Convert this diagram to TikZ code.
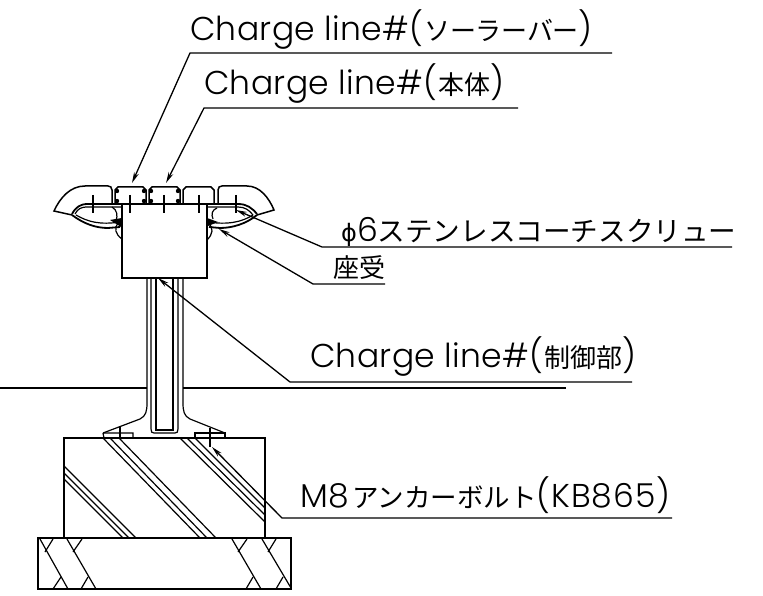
\documentclass[tikz,border=0pt]{standalone}
\usepackage{fontspec}
\setmainfont{Noto Sans CJK JP}
\newfontfamily\lat{Poppins Light}
\newfontfamily\sym{DejaVu Sans}
\usetikzlibrary{arrows.meta}
\newcommand{\jtext}[3]{{\fontsize{#1}{#1}\selectfont\addfontfeatures{LetterSpace=#2}#3}}
\newcommand{\ltext}[2][0]{{\lat\fontsize{33}{33}\selectfont\addfontfeatures{LetterSpace=#1}#2}}
\tikzset{
 x=1pt,y=-1pt,
 thin line/.style={line width=1.2pt,black},
 thick line/.style={line width=1.5pt,black},
 leader/.style={line width=1.3pt,black,-{Stealth[length=11pt,width=5pt]}},
 label/.style={anchor=base west,inner sep=0pt},
}
\begin{document}
\begin{tikzpicture}
\useasboundingbox (0,0) rectangle (763,596);
% labels
\node[label] (a) at (190,41) {\ltext[1]{Charge line\#(}\hspace{1pt}\jtext{26}{-1}{ソーラーバー}\ltext{)}};
\node[label] (b) at (204,95) {\ltext[1]{Charge line\#(}\hspace{1pt}\jtext{26}{0}{本体}\ltext{)}};
\node[label] (c) at (341,241) {{\sym\fontsize{24}{24}\selectfont ϕ}\ltext{6}\jtext{27.6}{0}{ステンレスコーチスクリュー}};
\node[label] (d) at (333,277) {\jtext{26}{0}{座受}};
\node[label] (e) at (310,367) {\ltext[1]{Charge line\#(}\hspace{1pt}\jtext{26}{0}{制御部}\ltext{)}};
\node[label] (f) at (300,507) {\ltext[2]{M8}\hspace{3pt}\jtext{26.5}{0}{アンカーボルト}\ltext[3]{(KB865)}};
% feet and leaders
\coordinate (a0) at (190,53); \coordinate (a1) at (612,53); \coordinate (at) at (132,183);
\coordinate (b0) at (204,108); \coordinate (b1) at (518,108); \coordinate (bt) at (166,183);
\coordinate (c0) at (322,247); \coordinate (c1) at (732,247); \coordinate (ct) at (236,210);
\coordinate (d0) at (313,284); \coordinate (d1) at (385,284); \coordinate (dt) at (219,229);
\coordinate (e0) at (290,382); \coordinate (e1) at (632,382); \coordinate (et) at (158,278);
\coordinate (f0) at (282,518); \coordinate (f1) at (672,518); \coordinate (ft) at (212,447);
\draw[leader] (a1) -- (a0) -- (at);
\draw[leader] (b1) -- (b0) -- (bt);
\draw[leader] (c1) -- (c0) -- (ct);
\draw[leader] (d1) -- (d0) -- (dt);
\draw[leader] (e1) -- (e0) -- (et);
\draw[leader] (f1) -- (f0) -- (ft);
% ground line
\draw[thick line] (0,388) -- (147,388) (183,388) -- (566,388);
% seat box
\draw[line width=1.8pt] (122,204) rectangle (207,278);
% bars
\draw[thick line] (112,203) -- (112,190) .. controls (112,187) and (110,186) .. (108,186) -- (85,186) .. controls (70,186) and (60,198) .. (54,211) -- (72,215);
\draw[thick line] (218,203) -- (218,190) .. controls (218,187) and (220,186) .. (222,186) -- (247,186) .. controls (260,186) and (269,198) .. (274,210) -- (257,215);
\draw[thick line] (115,203) -- (115,190) -- (118,187) -- (143,187) -- (146,190) -- (146,203);
\draw[thick line] (149,203) -- (149,190) -- (152,187) -- (177,187) -- (180,190) -- (180,203);
\draw[thick line] (183,203) -- (183,190) -- (186,187) -- (211,187) -- (214,190) -- (214,203);
% rivets
\foreach \p in {(117,191),(144,191),(117,201),(144,201),(151,191),(178,191),(151,201),(178,201)}
 \fill \p circle (2.2);
% bracket tops
\draw[line width=1.8pt] (72,214) .. controls (76,207) and (80,204) .. (88,204) -- (238,204) .. controls (247,204) and (252,208) .. (257,214);
\draw[thin line] (75,214) .. controls (78,209) and (80,207) .. (88,207) -- (122,207);
\draw[thin line] (207,207) -- (238,207) .. controls (245,207) and (249,210) .. (253,215);
% curved saddle
\draw[line width=1.8pt] (72,215) .. controls (84,224) and (96,228) .. (108,228) -- (120,227);
\draw[line width=1.8pt] (257,215) .. controls (246,224) and (232,228) .. (220,228) -- (209,227);
\draw[thin line] (76,215) .. controls (88,222) and (100,225) .. (120,222);
\draw[thin line] (253,215) .. controls (242,222) and (228,225) .. (208,222);
\draw[thin line] (112,207) .. controls (117,210) and (118,215) .. (116,221);
\draw[thin line] (217,208) .. controls (212,210) and (211,214) .. (213,219);
\draw[thin line] (118,223) .. controls (114,228) and (115,234) .. (122,239);
\draw[thin line] (208,223) .. controls (214,228) and (213,234) .. (207,240);
\fill (122,218) -- (110,220) -- (121,227) -- cycle;
\fill (207,218) -- (218,222) -- (208,226) -- cycle;
% bolts
\foreach \x in {93,130,164,199,236}
 \draw[thin line] (\x,195) -- (\x,213);
% post
\draw[thin line] (147,278) -- (147,403) .. controls (147,411) and (146,416) .. (140,419) -- (103,433);
\draw[thin line] (183,278) -- (183,403) .. controls (183,411) and (184,416) .. (190,419) -- (225,433);
\draw[thin line] (151,278) -- (151,429) .. controls (151,432) and (152,433) .. (154,433) -- (175,433) .. controls (177,433) and (178,432) .. (178,429) -- (178,278);
\draw[thick line] (156,278) -- (156,430) -- (173,430) -- (173,278);
% base plate
\draw[thin line] (103,433) -- (104,438) (103,433) -- (133,433) -- (133,438);
\draw[thin line] (195,438) -- (195,433) -- (225,433) -- (225,438);
\draw[thin line] (120,427) -- (120,438);
\draw[thin line] (210,428) -- (210,447);
% concrete
\draw[thick line] (64,438) rectangle (265,538);
\draw[line width=1.8pt] (38,538) rectangle (291,589);
% hatch concrete
\draw[thin line] (103,438) -- (200,538) (110,438) -- (207,538) (119,438) -- (216,538);
\draw[thin line] (180,438) -- (265,522) (187,438) -- (265,515) (195,438) -- (265,508);
\draw[thin line] (64,466) -- (136,538) (64,473) -- (129,538) (64,479) -- (123,538);
% hatch lower
\draw[thin line] (40,539) -- (68,589) (67,539) -- (96,589);
\draw[thin line] (53,539) -- (45,552) (82,539) -- (73,552) (53,589) -- (61,577) (81,589) -- (88,577);
\draw[thin line] (232,539) -- (261,589) (262,539) -- (291,588);
\draw[thin line] (247,539) -- (238,552) (276,539) -- (268,552) (246,589) -- (253,577) (276,589) -- (283,577);
\end{tikzpicture}
\end{document}
